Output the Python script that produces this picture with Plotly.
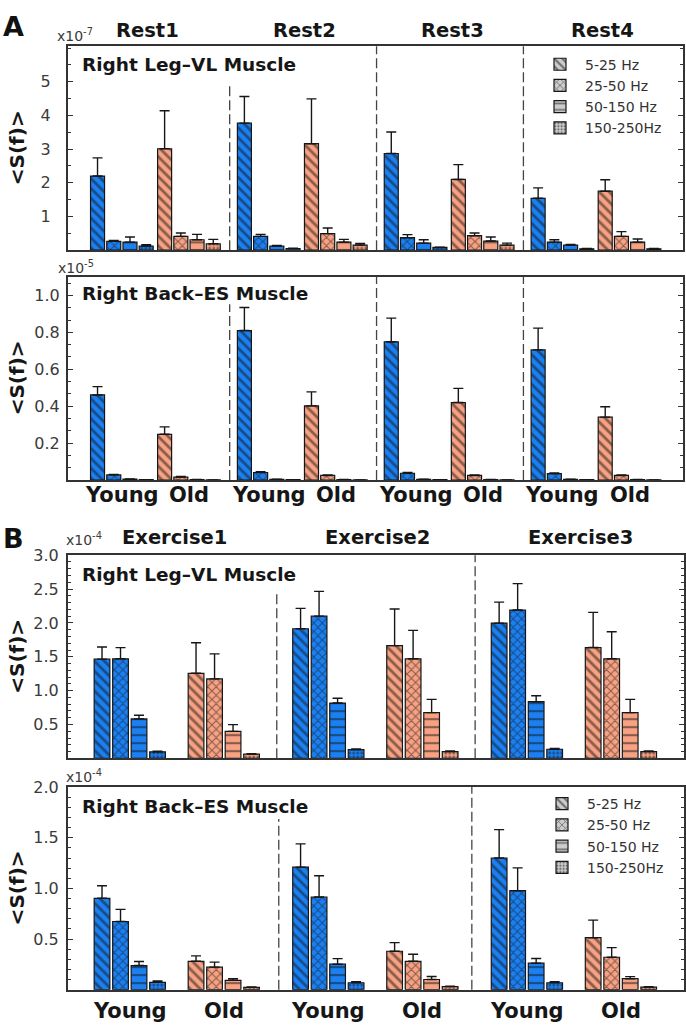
import plotly.graph_objects as go

W, H = 686, 1027

# ---------------- data ----------------
BANDS = ["5-25 Hz", "25-50 Hz", "50-150 Hz", "150-250Hz"]
REST_LABELS = ["Rest1", "Rest2", "Rest3", "Rest4"]
EXERCISE_LABELS = ["Exercise1", "Exercise2", "Exercise3"]
AGE_LABELS = ["Young", "Old"]

# Panel A - Right Leg-VL (x1e-7); rows = band, columns = Rest1..Rest4
REST_LEG_YOUNG = [[2.20, 3.77, 2.87, 1.54],
                  [0.26, 0.41, 0.37, 0.24],
                  [0.24, 0.12, 0.21, 0.15],
                  [0.12, 0.05, 0.08, 0.04]]
REST_LEG_YOUNG_ERR = [[0.54, 0.79, 0.64, 0.31],
                      [0.03, 0.06, 0.09, 0.07],
                      [0.15, 0.02, 0.10, 0.02],
                      [0.04, 0.01, 0.01, 0.01]]
REST_LEG_OLD = [[3.01, 3.16, 2.10, 1.75],
                [0.41, 0.49, 0.43, 0.41],
                [0.31, 0.24, 0.27, 0.24],
                [0.19, 0.15, 0.15, 0.04]]
REST_LEG_OLD_ERR = [[1.13, 1.33, 0.44, 0.34],
                    [0.10, 0.17, 0.08, 0.14],
                    [0.16, 0.08, 0.12, 0.09],
                    [0.13, 0.05, 0.06, 0.01]]

# Panel A - Right Back-ES (x1e-5)
REST_BACK_YOUNG = [[0.461, 0.810, 0.749, 0.705],
                   [0.028, 0.041, 0.037, 0.035],
                   [0.005, 0.004, 0.004, 0.004],
                   [0.002, 0.002, 0.002, 0.002]]
REST_BACK_YOUNG_ERR = [[0.045, 0.125, 0.128, 0.118],
                       [0.003, 0.004, 0.004, 0.004],
                       [0.001, 0.001, 0.001, 0.001],
                       [0.000, 0.000, 0.000, 0.000]]
REST_BACK_OLD = [[0.248, 0.402, 0.420, 0.341],
                 [0.016, 0.025, 0.025, 0.025],
                 [0.003, 0.003, 0.003, 0.003],
                 [0.001, 0.001, 0.001, 0.001]]
REST_BACK_OLD_ERR = [[0.040, 0.076, 0.077, 0.056],
                     [0.003, 0.003, 0.003, 0.003],
                     [0.001, 0.001, 0.001, 0.001],
                     [0.000, 0.000, 0.000, 0.000]]

# Panel B - Right Leg-VL (x1e-4); columns = Exercise1..Exercise3
EX_LEG_YOUNG = [[1.465, 1.914, 1.997],
                [1.470, 2.100, 2.190],
                [0.583, 0.817, 0.837],
                [0.096, 0.130, 0.135]]
EX_LEG_YOUNG_ERR = [[0.180, 0.300, 0.310],
                    [0.165, 0.365, 0.390],
                    [0.054, 0.070, 0.087],
                    [0.010, 0.010, 0.010]]
EX_LEG_OLD = [[1.256, 1.665, 1.636],
              [1.173, 1.470, 1.470],
              [0.398, 0.676, 0.676],
              [0.062, 0.100, 0.100]]
EX_LEG_OLD_ERR = [[0.450, 0.540, 0.520],
                  [0.370, 0.420, 0.400],
                  [0.100, 0.195, 0.195],
                  [0.008, 0.010, 0.010]]

# Panel B - Right Back-ES (x1e-4)
EX_BACK_YOUNG = [[0.902, 1.209, 1.300],
                 [0.673, 0.915, 0.977],
                 [0.238, 0.251, 0.261],
                 [0.072, 0.068, 0.068]]
EX_BACK_YOUNG_ERR = [[0.124, 0.230, 0.280],
                     [0.120, 0.210, 0.225],
                     [0.040, 0.055, 0.046],
                     [0.013, 0.010, 0.010]]
EX_BACK_OLD = [[0.280, 0.379, 0.513],
               [0.222, 0.280, 0.320],
               [0.091, 0.100, 0.108],
               [0.022, 0.030, 0.025]]
EX_BACK_OLD_ERR = [[0.053, 0.085, 0.173],
                   [0.050, 0.070, 0.095],
                   [0.017, 0.030, 0.020],
                   [0.004, 0.005, 0.004]]

# ---------------- style ----------------
FONT = "DejaVu Sans"
BLUE = "#1b80f2"
ORANGE = "#f8a283"
GRAY = "#cccccc"
INK = "#161616"
AXC = "#333333"
PAT_SHAPE = ["\\", "x", "-", "."]
PAT_SIZE = [7, 6, 8, 4]
PAT_SOLID = [0.4, 0.32, 0.27, 0.38]


def fx(p):
    return p / W


def fy(p):
    return 1 - p / H


PANELS = [
    dict(young=REST_LEG_YOUNG, yerr=REST_LEG_YOUNG_ERR, old=REST_LEG_OLD, oerr=REST_LEG_OLD_ERR,
         ng=4, step=16.2, gstep=146.7, shift=67, bw=14, xr=[-29.8, 584.8],
         dx=(67.7, 683), dy=(37.7, 243.3), yr=[0, 6.05], tv=[1, 2, 3, 4, 5], fmt="d",
         minor=0.5, standoff=12, div=[132, 278.7, 425.4], divtop=[0.819, 1, 1],
         title="Right Leg\u2013VL Muscle", ty=56, exp="x10<sup>-7</sup>", ex=(55, 26),
         legend="legend", agelab=None),
    dict(young=REST_BACK_YOUNG, yerr=REST_BACK_YOUNG_ERR, old=REST_BACK_OLD, oerr=REST_BACK_OLD_ERR,
         ng=4, step=16.2, gstep=146.7, shift=67, bw=14, xr=[-29.8, 584.8],
         dx=(67.7, 683), dy=(270, 475.25), yr=[0, 1.102], tv=[0.2, 0.4, 0.6, 0.8, 1.0], fmt=".1f",
         minor=0.0667, standoff=3, div=[132, 278.7, 425.4], divtop=[0.864, 1, 1],
         title="Right Back\u2013ES Muscle", ty=287, exp="x10<sup>-5</sup>", ex=(56, 260),
         legend=None, agelab=490),
    dict(young=EX_LEG_YOUNG, yerr=EX_LEG_YOUNG_ERR, old=EX_LEG_OLD, oerr=EX_LEG_OLD_ERR,
         ng=3, step=18.5, gstep=198.5, shift=94, bw=15.7, xr=[-34.3, 581.8],
         dx=(67.7, 684), dy=(551, 756), yr=[0, 3.0], tv=[0.5, 1.0, 1.5, 2.0, 2.5, 3.0], fmt=".1f",
         minor=0.1, standoff=4, div=[174.7, 373], divtop=[0.824, 1],
         title="Right Leg\u2013VL Muscle", ty=570, exp="x10<sup>-4</sup>", ex=(64, 535),
         legend=None, agelab=None),
    dict(young=EX_BACK_YOUNG, yerr=EX_BACK_YOUNG_ERR, old=EX_BACK_OLD, oerr=EX_BACK_OLD_ERR,
         ng=3, step=18.5, gstep=198.5, shift=94, bw=15.7, xr=[-34.3, 581.8],
         dx=(67.7, 684), dy=(785, 989.3), yr=[0, 2.0], tv=[0.5, 1.0, 1.5, 2.0], fmt=".1f",
         minor=0.1, standoff=4, div=[176.7, 369.7], divtop=[0.843, 1],
         title="Right Back\u2013ES Muscle", ty=805, exp="x10<sup>-4</sup>", ex=(64, 774),
         legend="legend2", agelab=1011),
]

fig = go.Figure()
annotations = []
shapes = []
layout = {}

for i, p in enumerate(PANELS):
    sfx = "" if i == 0 else str(i + 1)
    xa, ya = "x" + sfx, "y" + sfx
    for age, vals, errs, col in ((0, p["young"], p["yerr"], BLUE), (1, p["old"], p["oerr"], ORANGE)):
        for b in range(4):
            xs = [g * p["gstep"] + age * p["shift"] + b * p["step"] for g in range(p["ng"])]
            fig.add_trace(go.Bar(
                x=xs, y=vals[b], width=p["bw"], xaxis=xa, yaxis=ya, showlegend=False,
                marker=dict(color=col, line=dict(color=INK, width=1.2),
                            pattern=dict(shape=PAT_SHAPE[b], size=PAT_SIZE[b], solidity=PAT_SOLID[b],
                                         fgcolor=INK, fillmode="overlay")),
                error_y=dict(type="data", array=errs[b], arrayminus=[0] * len(errs[b]),
                             symmetric=False, color=INK, thickness=1.4, width=5),
                hoverinfo="skip"))
    if p["legend"]:
        for b in range(4):
            fig.add_trace(go.Bar(
                x=[None], y=[None], name=BANDS[b], xaxis=xa, yaxis=ya, legend=p["legend"],
                marker=dict(color=GRAY, line=dict(color=INK, width=1.2),
                            pattern=dict(shape=PAT_SHAPE[b], size=PAT_SIZE[b], solidity=PAT_SOLID[b],
                                         fgcolor=INK, fillmode="overlay"))))

    layout["xaxis" + sfx] = dict(domain=[fx(p["dx"][0]), fx(p["dx"][1])], range=p["xr"], anchor=ya,
                                 showticklabels=False, ticks="", showline=True, mirror=True,
                                 linecolor=AXC, linewidth=1.6, showgrid=False, zeroline=False)
    layout["yaxis" + sfx] = dict(domain=[fy(p["dy"][1]), fy(p["dy"][0])], range=p["yr"], anchor=xa,
                                 tickvals=p["tv"], tickformat=p["fmt"], ticks="inside", ticklen=5,
                                 tickwidth=1.2, tickcolor=AXC, showline=True, mirror="ticks",
                                 linecolor=AXC, linewidth=1.6, showgrid=False, zeroline=False,
                                 ticklabelstandoff=p["standoff"],
                                 tickfont=dict(family=FONT, size=16, color="#3a3a3a"),
                                 minor=dict(ticks="inside", ticklen=3, dtick=p["minor"], tick0=0,
                                            tickcolor=AXC, tickwidth=1))
    for d, top in zip(p["div"], p["divtop"]):
        shapes.append(dict(type="line", xref=xa, yref=ya + " domain", x0=d, x1=d, y0=0, y1=top,
                           line=dict(color="#444", width=1.3, dash="10px,4px")))
    annotations.append(dict(text="<b>" + p["title"] + "</b>", xref="paper", yref="paper",
                            x=fx(80), y=fy(p["ty"]), xanchor="left", yanchor="middle", showarrow=False,
                            font=dict(family=FONT, size=18.5, color=INK)))
    annotations.append(dict(text=p["exp"], xref="paper", yref="paper", x=fx(p["ex"][0]), y=fy(p["ex"][1]),
                            xanchor="left", yanchor="middle", showarrow=False,
                            font=dict(family=FONT, size=14, color="#3a3a3a")))
    annotations.append(dict(text="<b>&lt;S(f)&gt;</b>", xref="paper", yref="paper", x=fx(17),
                            y=fy((p["dy"][0] + p["dy"][1]) / 2), textangle=-90, showarrow=False,
                            xanchor="center", yanchor="middle",
                            font=dict(family=FONT, size=20, color=INK)))
    if p["agelab"]:
        for g in range(p["ng"]):
            for age in range(2):
                cx = g * p["gstep"] + age * p["shift"] + 1.5 * p["step"]
                annotations.append(dict(text="<b>" + AGE_LABELS[age] + "</b>", xref=xa, yref="paper",
                                        x=cx, y=fy(p["agelab"]), showarrow=False, xanchor="center",
                                        yanchor="middle", font=dict(family=FONT, size=21, color=INK)))

# condition titles
REST_TITLE_X = [147.5, 304, 452.5, 602.5]
EX_TITLE_X = [174.5, 377, 580]
for lab, xp in zip(REST_LABELS, REST_TITLE_X):
    annotations.append(dict(text="<b>" + lab + "</b>", xref="paper", yref="paper", x=fx(xp), y=fy(22),
                            showarrow=False, xanchor="center", yanchor="middle",
                            font=dict(family=FONT, size=19.5, color=INK)))
for lab, xp in zip(EXERCISE_LABELS, EX_TITLE_X):
    annotations.append(dict(text="<b>" + lab + "</b>", xref="paper", yref="paper", x=fx(xp), y=fy(533),
                            showarrow=False, xanchor="center", yanchor="middle",
                            font=dict(family=FONT, size=19.5, color=INK)))
for lab, (xp, yp) in zip(["A", "B"], [(14, 18), (14, 534)]):
    annotations.append(dict(text="<b>" + lab + "</b>", xref="paper", yref="paper", x=fx(xp), y=fy(yp),
                            showarrow=False, xanchor="center", yanchor="middle",
                            font=dict(family=FONT, size=27, color="#111")))

leg_common = dict(xanchor="left", yanchor="top", bgcolor="rgba(0,0,0,0)", borderwidth=0,
                  font=dict(family=FONT, size=14, color="#333"), itemwidth=40, tracegroupgap=0)
layout["legend"] = dict(x=fx(535), y=fy(40), **leg_common)
layout["legend2"] = dict(x=fx(537), y=fy(786), **leg_common)

fig.update_layout(width=W, height=H, margin=dict(l=0, r=0, t=0, b=0), plot_bgcolor="white",
                  paper_bgcolor="white", barmode="overlay", showlegend=True,
                  annotations=annotations, shapes=shapes, **layout)

fig.write_html("out.html", config={"displayModeBar": False},
               post_script="document.body.style.margin='0';document.body.style.overflow='hidden';")
